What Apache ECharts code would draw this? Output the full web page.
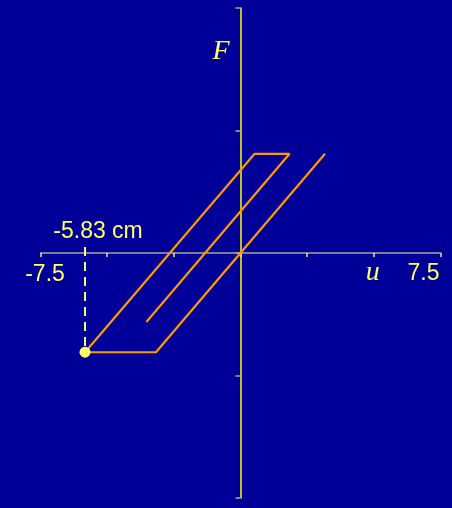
<!DOCTYPE html>
<html>
<head>
<meta charset="utf-8">
<script src="https://cdn.jsdelivr.net/npm/echarts@6/dist/echarts.min.js"></script>
<style>
  html, body { margin: 0; padding: 0; background: #000099; }
  #chart { width: 452px; height: 508px; }
</style>
</head>
<body>
<div id="chart"></div>
<script>
// Elasto-plastic force–displacement path (u in cm, F normalised)
const uPath = [3.17, -3.17, -5.83, 0.53, 1.84, -3.53];
const fPath = [0.81, -0.81, -0.81, 0.81, 0.81, -0.563];

// Peak negative displacement, its marker and the guide up to the u axis
const uPeak = -5.83;
const fPeak = -0.81;
const fGuideTop = 0.05;

// Labels placed along the u axis
const uLabelValues = [-7.5, 5, 7.5];
const uLabelTexts = ['-7.5', 'u', '7.5'];
const uLabelShift = [[4.5, 22], [-1, 20], [-17, 21]];

const yellow = '#ffff66';
const chart = echarts.init(document.getElementById('chart'));

const numFont = { color: yellow, fontSize: 23, fontFamily: 'Liberation Sans' };
const italicFont = { color: yellow, fontSize: 28, fontStyle: 'italic', fontFamily: 'Liberation Serif' };

chart.setOption({
  backgroundColor: '#000099',
  animation: false,
  grid: { left: 40.5, right: 11.5, top: 8, bottom: 10, outerBoundsMode: 'none', containLabel: false },
  xAxis: {
    type: 'value',
    min: -7.5, max: 7.5, interval: 2.5,
    splitLine: { show: false },
    axisLine: { onZero: true, lineStyle: { color: '#a8a890', width: 1.5 } },
    axisTick: { length: 4, lineStyle: { color: '#e8e890', width: 1.5 } },
    axisLabel: { show: false }
  },
  yAxis: {
    type: 'value',
    min: -2, max: 2, interval: 1,
    splitLine: { show: false },
    axisLine: { onZero: true, lineStyle: { color: '#ffff00', width: 1.5 } },
    axisTick: { length: 5, lineStyle: { color: '#a8a8a8', width: 1.5 } },
    axisLabel: { show: false }
  },
  graphic: [{
    type: 'text',
    x: 221, y: 52,
    style: {
      text: 'F',
      fill: yellow,
      font: 'italic 28px "Liberation Serif"',
      align: 'center',
      verticalAlign: 'middle'
    }
  }],
  series: [
    {
      type: 'line',
      data: uPath.map((u, i) => [u, fPath[i]]),
      symbol: 'none',
      lineStyle: { color: '#ff9900', width: 2.2 },
      z: 3
    },
    {
      type: 'line',
      data: [[uPeak, fGuideTop], [uPeak, fPeak]],
      symbol: 'none',
      lineStyle: { color: yellow, width: 2, type: [9, 6] },
      z: 2
    },
    {
      type: 'scatter',
      data: [[uPeak, fPeak]],
      symbol: 'circle',
      symbolSize: 11,
      itemStyle: { color: yellow, opacity: 1 },
      z: 4
    },
    {
      type: 'scatter',
      data: [[uPeak, fGuideTop]],
      symbolSize: 0,
      silent: true,
      itemStyle: { opacity: 1 },
      label: Object.assign({
        show: true,
        position: 'top',
        distance: 4,
        offset: [13, 0],
        formatter: uPeak + ' cm'
      }, numFont),
      z: 4
    },
    {
      type: 'scatter',
      symbolSize: 0,
      silent: true,
      itemStyle: { opacity: 1 },
      data: uLabelValues.map((u, i) => ({
        value: [u, 0],
        label: Object.assign({
          show: true,
          position: 'inside',
          offset: uLabelShift[i],
          formatter: uLabelTexts[i]
        }, uLabelTexts[i] === 'u' ? italicFont : numFont)
      })),
      z: 4
    }
  ]
});
</script>
</body>
</html>
